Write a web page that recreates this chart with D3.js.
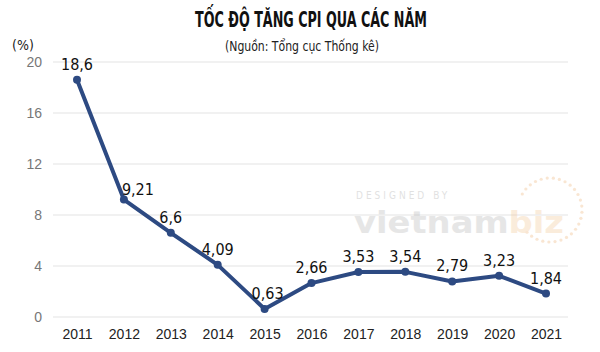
<!DOCTYPE html>
<html>
<head>
<meta charset="utf-8">
<script src="https://cdn.jsdelivr.net/npm/d3@7"></script>
<style>
  html, body { margin: 0; padding: 0; background: #fff; }
  svg { display: block; font-family: "DejaVu Sans", sans-serif; font-stretch: condensed; }
</style>
</head>
<body>
<div id="chart"></div>
<script>
// --- data -------------------------------------------------------------
var years = ["2011", "2012", "2013", "2014", "2015", "2016", "2017", "2018", "2019", "2020", "2021"];
var cpi = [18.6, 9.21, 6.6, 4.09, 0.63, 2.66, 3.53, 3.54, 2.79, 3.23, 1.84];
var cpiLabels = ["18,6", "9,21", "6,6", "4,09", "0,63", "2,66", "3,53", "3,54", "2,79", "3,23", "1,84"];
var yTicks = [0, 4, 8, 12, 16, 20];

(function () {
  var W = 600, H = 352;
  var svg = d3.select("#chart").append("svg").attr("width", W).attr("height", H);

  // plot area
  var pLeft = 53, pRight = 568, pTop = 62, pBottom = 317;

  var x = d3.scalePoint().domain(years).range([77, 546]);
  var y = d3.scaleLinear().domain([0, 20]).range([pBottom, pTop]);

  // title + source (squeezed to mimic the condensed face of the original)
  svg.append("text").attr("x", 311).attr("y", 27).attr("text-anchor", "middle")
    .attr("textLength", 232).attr("lengthAdjust", "spacingAndGlyphs")
    .style("font-size", "22px").style("font-weight", "bold").attr("fill", "#111")
    .text("TỐC ĐỘ TĂNG CPI QUA CÁC NĂM");
  svg.append("text").attr("x", 302).attr("y", 51).attr("text-anchor", "middle")
    .attr("textLength", 154).attr("lengthAdjust", "spacingAndGlyphs")
    .style("font-size", "14px").attr("fill", "#222")
    .text("(Nguồn: Tổng cục Thống kê)");
  svg.append("text").attr("x", 12).attr("y", 50)
    .style("font-size", "14px").attr("fill", "#222").text("(%)");

  // gridlines
  svg.append("g").selectAll("line").data(yTicks).enter().append("line")
    .attr("x1", pLeft).attr("x2", pRight)
    .attr("y1", function (d) { return y(d); }).attr("y2", function (d) { return y(d); })
    .attr("stroke", "#ececec").attr("stroke-width", 1.5);

  // y axis labels
  var yAxis = svg.append("g").attr("transform", "translate(42,0)")
    .call(d3.axisLeft(y).tickValues(yTicks).tickSize(0).tickPadding(0));
  yAxis.select(".domain").remove();
  yAxis.selectAll("text").attr("font-family", null).attr("font-size", null)
    .style("font-size", "14px").attr("fill", "#777");

  // x axis labels
  var xAxis = svg.append("g").attr("transform", "translate(0,329)")
    .call(d3.axisBottom(x).tickSize(0).tickPadding(0));
  xAxis.select(".domain").remove();
  xAxis.selectAll("text").attr("font-family", null).attr("font-size", null)
    .style("font-size", "14px").attr("fill", "#222");

  // watermark
  var wm = svg.append("g").attr("opacity", 0.35);
  wm.append("text").attr("x", 356).attr("y", 199)
    .style("font-size", "10px").style("letter-spacing", "3px").attr("fill", "#aaa")
    .text("DESIGNED BY");
  wm.append("text").attr("x", 354).attr("y", 233)
    .attr("textLength", 210).attr("lengthAdjust", "spacingAndGlyphs")
    .style("font-size", "30px").style("font-weight", "bold").attr("fill", "#b8b8b8")
    .text("vietnam")
    .append("tspan").attr("fill", "#f3c99a").text("biz");
  var dotRing = d3.range(-150, 140, 11);
  wm.selectAll("circle").data(dotRing).enter().append("circle")
    .attr("cx", function (a) { return 550 + 32 * Math.cos(a * Math.PI / 180); })
    .attr("cy", function (a) { return 210 + 32 * Math.sin(a * Math.PI / 180); })
    .attr("r", 1.6).attr("fill", "#f0b880");

  // line
  var pts = years.map(function (yr, i) { return { yr: yr, v: cpi[i], lab: cpiLabels[i] }; });
  svg.append("path").datum(pts)
    .attr("fill", "none").attr("stroke", "#2d4a82").attr("stroke-width", 4)
    .attr("stroke-linejoin", "round")
    .attr("d", d3.line().x(function (d) { return x(d.yr); }).y(function (d) { return y(d.v); }));

  svg.append("g").selectAll("circle").data(pts).enter().append("circle")
    .attr("cx", function (d) { return x(d.yr); }).attr("cy", function (d) { return y(d.v); })
    .attr("r", 4).attr("fill", "#2d4a82");

  // value labels
  svg.append("g").selectAll("text").data(pts).enter().append("text")
    .attr("x", function (d) { return x(d.yr) + (d.yr === "2012" ? 14 : (d.yr === "2015" ? 3 : 0)); })
    .attr("y", function (d) { return y(d.v) - (d.yr === "2012" ? 5 : 10); })
    .attr("text-anchor", "middle")
    .style("font-size", "16px").attr("fill", "#111")
    .text(function (d) { return d.lab; });
})();
</script>
</body>
</html>
